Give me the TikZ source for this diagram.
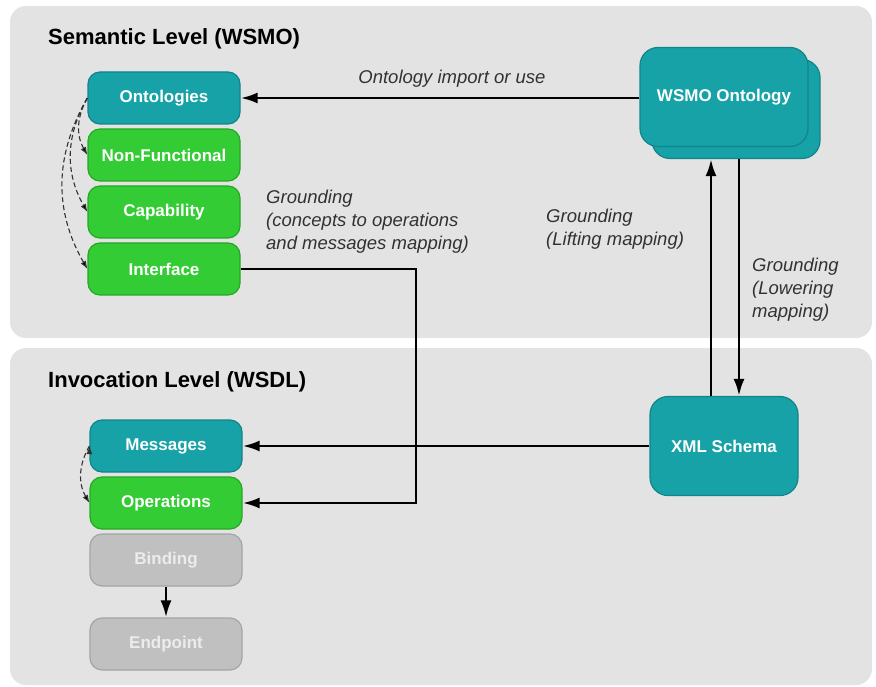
\documentclass[tikz,border=0pt]{standalone}
\usepackage{fontspec}
\setsansfont{Liberation Sans}
\usepackage{tikz}
\usetikzlibrary{arrows.meta}

\begin{document}
\begin{tikzpicture}[x=1pt,y=-1pt,>={Latex[length=17pt,width=11pt]},node distance=57pt,
  level panel/.style={fill=panelgray,rounded corners=16pt,inner sep=0pt},
  main node/.style={rounded corners=12pt,draw,line width=1.2pt,minimum width=152pt,
    minimum height=52pt,inner sep=0pt,text=white,
    font=\sffamily\bfseries\fontsize{17}{20}\selectfont},
  teal node/.style={main node,fill=tealbox,draw=tealedge},
  green node/.style={main node,fill=greenbox,draw=greenedge},
  gray node/.style={main node,fill=graybox,draw=grayedge,text=graytext},
  big node/.style={teal node,minimum width=168pt,minimum height=99pt,rounded corners=18pt},
  level title/.style={anchor=west,inner sep=0pt,font=\sffamily\bfseries\fontsize{22}{26}\selectfont},
  note/.style={anchor=west,align=left,inner sep=0pt,text=notegray,
    font=\sffamily\itshape\fontsize{18.5}{23}\selectfont}]
  \definecolor{panelgray}{RGB}{227,227,227}
  \definecolor{tealbox}{RGB}{22,162,166}
  \definecolor{tealedge}{RGB}{18,132,138}
  \definecolor{greenbox}{RGB}{52,204,52}
  \definecolor{greenedge}{RGB}{36,168,36}
  \definecolor{graybox}{RGB}{192,192,192}
  \definecolor{grayedge}{RGB}{165,165,165}
  \definecolor{graytext}{RGB}{236,236,236}
  \definecolor{notegray}{RGB}{50,50,50}

  \useasboundingbox (0,0) rectangle (876,687);

  % the two levels
  \node[level panel,minimum width=862pt,minimum height=332pt] (semantic) at (441,172) {};
  \node[level panel,minimum width=862pt,minimum height=337pt] (invocation) at (441,516.5) {};
  \node[level title] (semtitle) at (48,39) {Semantic Level (WSMO)};
  \node[level title] (invtitle) at (48,382) {Invocation Level (WSDL)};

  % WSMO side
  \node[teal node] (onto) at (164,98) {Ontologies};
  \node[green node] (nonfunc) [below of=onto] {Non-Functional};
  \node[green node] (capab) [below of=nonfunc] {Capability};
  \node[green node] (iface) [below of=capab] {Interface};

  % WSDL side
  \node[teal node] (msgs) at (166,446) {Messages};
  \node[green node] (ops) [below of=msgs] {Operations};
  \node[gray node] (binding) [below of=ops] {Binding};
  \node[gray node] (endpoint) [below of=binding,node distance=84pt] {Endpoint};

  \node[big node] (wsmoback) at (736,109) {};
  \node[big node] (wsmo) at (724,97) {WSMO Ontology};
  \node[teal node,minimum width=148pt,minimum height=99pt,rounded corners=18pt] (xml) at (724,446) {XML Schema};

  \node[note] (lblconcepts) at (266,222) {Grounding\\(concepts to operations\\and messages mapping)};
  \node[note] (lbllift) at (546,229) {Grounding\\(Lifting mapping)};
  \node[note] (lbllower) at (752,290) {Grounding\\(Lowering\\mapping)};

  \coordinate (turn) at (416,385);
  \coordinate (liftfoot) at ([xshift=-13pt]xml.north);
  \coordinate (lowfoot) at ([xshift=15pt]xml.north);

  \path[->,line width=2.7pt]
    (onto.east -| wsmo.west) edge node[note,above=9pt,pos=0.47] {Ontology import or use} (onto.east)
    (msgs.east -| xml.west) edge (msgs.east)
    (liftfoot) edge (liftfoot |- wsmoback.south)
    (lowfoot |- wsmoback.south) edge (lowfoot)
    (binding) edge (endpoint);
  \draw[->,line width=2.7pt] (iface.east) -| (turn) |- (ops.east);

  \path[-{Latex[length=8pt,width=6pt]},line width=1.1pt,dash pattern=on 5pt off 3pt,draw=notegray]
    (onto.west) edge [bend right=30] (nonfunc.west)
                edge [bend right=30] (capab.west)
                edge [bend right=30] (iface.west)
    (msgs.west) edge [bend right=30] (ops.west);
\end{tikzpicture}
\end{document}
